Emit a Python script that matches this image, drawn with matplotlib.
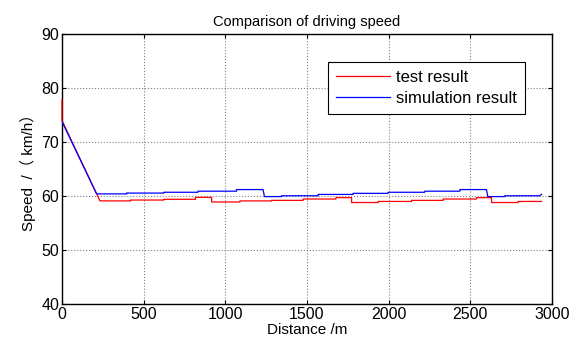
import matplotlib
matplotlib.use('Agg')
from matplotlib import pyplot as plt

plt.rcParams['font.family'] = ['Liberation Sans', 'Noto Sans CJK SC', 'DejaVu Sans']

#--- DATA ---------------------------------------------------------------------+

# test result (red)
test_dist = [0, 0, 233, 420, 420, 624, 624, 818, 818, 917, 917, 1090, 1090,
             1284, 1284, 1477, 1477, 1678, 1678, 1774, 1774, 1937, 1937,
             2141, 2141, 2335, 2335, 2539, 2539, 2631, 2631, 2794, 2794, 2937]
test_speed = [77.8, 74.0, 59.1, 59.1, 59.26, 59.26, 59.4, 59.4, 59.76, 59.76,
              58.9, 58.9, 59.1, 59.1, 59.2, 59.2, 59.45, 59.45, 59.7, 59.7,
              58.8, 58.8, 59.0, 59.0, 59.2, 59.2, 59.45, 59.45, 59.7, 59.7,
              58.8, 58.8, 59.0, 59.0]

# simulation result (blue)
sim_dist = [0, 212, 396, 396, 624, 624, 833, 833, 1069, 1069, 1232, 1240,
            1345, 1345, 1569, 1569, 1783, 1783, 1998, 1998, 2222, 2222,
            2437, 2437, 2600, 2608, 2712, 2712, 2925, 2937]
sim_speed = [73.8, 60.4, 60.4, 60.55, 60.55, 60.7, 60.7, 60.9, 60.9, 61.2,
             61.2, 59.9, 59.9, 60.05, 60.05, 60.3, 60.3, 60.5, 60.5, 60.7,
             60.7, 60.9, 60.9, 61.2, 61.2, 59.9, 59.9, 60.05, 60.05, 60.3]

xticks = [0, 500, 1000, 1500, 2000, 2500, 3000]
yticks = [40, 50, 60, 70, 80, 90]

#--- PLOT ---------------------------------------------------------------------+

fig = plt.figure(figsize=(5.79, 3.54), dpi=100)
ax = fig.add_axes([0.107, 0.141, 0.846, 0.763])

ax.plot(test_dist, test_speed, color='red', lw=0.9, label='test result',
        clip_on=False, zorder=3)
ax.plot(sim_dist, sim_speed, color='blue', lw=0.9, label='simulation result',
        zorder=3)

ax.set_xlim(0, 3000)
ax.set_ylim(40, 90)
ax.set_xticks(xticks)
ax.set_yticks(yticks)
ax.tick_params(direction='in', top=True, right=True, labelsize=11.5, length=3, pad=2)
ax.grid(True, color='gray', linestyle=':', linewidth=0.8)
for s in ax.spines.values():
    s.set_linewidth(1.0)

ax.set_title('Comparison of driving speed', fontsize=10.5, pad=6)
ax.set_xlabel('Distance /m', fontsize=11, labelpad=1)
ax.set_ylabel('Speed  /（ km/h）', fontsize=11, labelpad=4)

leg = ax.legend(loc='upper right', bbox_to_anchor=(0.945, 0.898), fontsize=12,
                fancybox=False, framealpha=1, edgecolor='black',
                handlelength=3.2, handletextpad=0.35, borderpad=0.5,
                labelspacing=0.35, borderaxespad=0)
leg.get_frame().set_linewidth(0.8)

plt.savefig('out.png', dpi=100)
